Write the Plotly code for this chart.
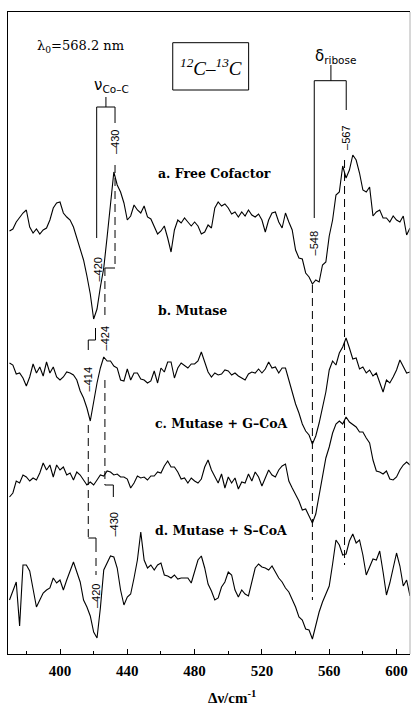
import plotly.graph_objects as go

# Raman shift grid (cm^-1) sampled every 2 cm^-1
wavenumber = list(range(370, 610, 2))

# difference spectra (12C - 13C), arbitrary units
free_cofactor = [
    -6, -4, 3, 8, 12, 15, -2, -8, -4, -9,
    -5, -3, 5, 17, 22, 23, 12, 8, 5, -2,
    -13, -23, -35, -51, -69, -94, -84, -62, -43, -12,
    22, 53, 40, 33, 22, 5, 9, 20, 15, 12,
    19, 8, 6, -1, -9, -6, -1, -13, -27, -5,
    5, 2, 7, 3, -1, 3, -1, -9, -7, 0,
    -3, 17, 23, 19, 21, 17, 11, 13, 8, 13,
    9, 15, 10, 8, 11, 5, -7, 5, 12, 13,
    3, -3, 12, 3, -5, -25, -33, -34, -48, -52,
    -59, -55, -57, -40, -37, -11, 5, 30, 33, 59,
    47, 55, 70, 65, 52, 35, 33, 38, 9, 13,
    15, 7, 7, 3, 9, 5, 3, 9, -10, -3,
]
mutase = [
    9, 7, -2, -1, -6, -14, -5, 8, -1, 5,
    -4, 10, -1, 5, -5, -8, -5, 0, -1, -3,
    -8, -19, -26, -36, -49, -28, -11, 4, 15, 11,
    11, 6, 4, -8, -9, 3, -8, -1, -1, -7,
    -8, -11, -9, 1, -11, 4, 0, 10, 10, -6,
    4, 9, 6, 4, 8, 8, 11, 20, 10, 0,
    -5, -1, -3, -2, 2, 1, -3, -1, -4, -6,
    -8, -2, 0, -1, 3, -1, 3, 10, 4, 5,
    -1, 4, 4, -8, -20, -32, -41, -52, -59, -63,
    -72, -64, -51, -37, -20, 2, 11, 7, 19, 25,
    34, 24, 13, 14, 3, 5, -1, 2, -4, -1,
    -11, -20, -8, -11, -5, 2, 12, 6, -1, 0,
]
mutase_gcoa = [
    -21, -17, -5, -7, 1, -1, -5, -2, -4, 3,
    13, 6, 11, -1, 11, 6, 9, 1, 3, -4,
    4, 1, -4, -9, -6, -9, -4, 1, 0, 5,
    4, 1, 2, -1, -1, -3, -12, -7, 0, -2,
    -1, -4, 0, 0, 4, 3, 10, 15, 9, 9,
    4, -3, -2, -7, -2, -5, -7, -3, 9, 16,
    6, -1, -7, 2, -12, -1, -7, -2, -13, -6,
    -7, 2, -5, 4, -1, -10, -1, 6, 1, -1,
    6, 10, 12, -5, -12, -18, -25, -34, -33, -40,
    -47, -38, -19, 1, 18, 29, 43, 52, 55, 52,
    59, 54, 51, 49, 44, 44, 38, 33, 16, 5,
    4, 2, 5, -3, -4, -1, 6, 11, 14, 11,
]
mutase_scoa = [
    -20, -10, -2, -46, 15, 15, 9, -9, -27, -20,
    -13, -10, -8, 2, -3, 0, -10, 0, 10, 18,
    8, -2, -20, -27, -36, -52, -58, -28, 10, 17,
    24, 23, 12, -10, -25, -17, -14, 2, 20, 48,
    20, 12, 15, 10, 15, 17, 5, 4, 2, 5,
    1, 2, 2, 2, -3, 8, 20, 24, 12, -4,
    -11, -20, -18, -7, -2, 8, 5, -10, -17, -10,
    -14, -16, -2, 12, 16, 13, 12, 10, 14, 8,
    2, -2, -8, -12, -20, -27, -37, -40, -49, -50,
    -59, -45, -32, -22, -14, -6, 16, 40, 35, 25,
    26, 39, 46, 37, 40, 25, 5, 13, 21, 20,
    29, 8, -15, -3, 13, 27, 14, -6, 0, -16,
]

series = [free_cofactor, mutase, mutase_gcoa, mutase_scoa]
series_names = ["a. Free Cofactor", "b. Mutase", "c. Mutase + G\u2013CoA", "d. Mutase + S\u2013CoA"]
offsets = [429, 282, 178, 74]

tick_vals = [400, 440, 480, 520, 560, 600]
tick_text = ["400", "440", "480", "520", "560", "600"]

fig = go.Figure()
for vals, name, off in zip(series, series_names, offsets):
    fig.add_trace(go.Scatter(
        x=wavenumber, y=[v + off for v in vals], mode="lines",
        line=dict(color="black", width=1.1), name=name, showlegend=False,
        hoverinfo="skip"))

solid = dict(color="black", width=1)
dashed = dict(color="black", width=1, dash="8px,5px")

segments = [
    # nu(Co-C) bracket and guide lines
    (421.8, 547, 432.7, 547, solid),
    (427.3, 547, 427.3, 557, solid),
    (421.8, 547, 421.8, 416, solid),
    (432.7, 547, 432.7, 531, solid),
    (432.7, 489, 432.7, 386, dashed),
    (432.7, 386, 426.7, 386, solid),
    (426.7, 386, 426.7, 334, dashed),
    (426.7, 274, 426.7, 169, dashed),
    (426.7, 169, 431.7, 169, solid),
    (431.7, 169, 431.7, 157, solid),
    (421.1, 326, 421.1, 314, solid),
    (421.1, 314, 416.8, 314, solid),
    (416.8, 314, 416.8, 304, solid),
    (416.8, 229, 416.8, 116, dashed),
    (416.8, 116, 421.4, 116, solid),
    (421.4, 116, 421.4, 102, solid),
    (421.4, 96, 421.4, 79, dashed),
    # delta(ribose) bracket and guide lines
    (551.1, 573.3, 570.1, 573.3, solid),
    (561.0, 573.3, 561.0, 589, solid),
    (551.1, 573.3, 551.1, 436, solid),
    (570.1, 573.3, 570.1, 544, solid),
    (550.0, 369, 550.0, 54, dashed),
    (569.1, 494, 569.1, 89, dashed),
]
for x0, y0, x1, y1, ln in segments:
    fig.add_shape(type="line", xref="x", yref="y", x0=x0, y0=y0, x1=x1, y1=y1, line=ln)

# isotope box
fig.add_shape(type="rect", xref="x", yref="y", x0=467.0, y0=564, x1=512.1, y1=611.3,
              line=dict(color="black", width=1))
# faint right border
fig.add_shape(type="line", xref="paper", yref="paper", x0=1, x1=1, y0=0, y1=1,
              line=dict(color="#b0b0b0", width=1))

peak_labels = [
    ("\u2013420", 422.3, 384), ("\u2013430", 432.7, 512), ("\u2013424", 427.0, 316),
    ("\u2013414", 416.9, 275), ("\u2013430", 431.8, 129), ("\u2013420", 421.4, 58),
    ("\u2013548", 551.2, 411), ("\u2013567", 569.9, 516),
]
for txt, x, y in peak_labels:
    fig.add_annotation(x=x, y=y, xref="x", yref="y", text=txt, textangle=-90,
                       showarrow=False, xanchor="center", yanchor="middle",
                       font=dict(family="Liberation Sans", size=11, color="black"))

label_pos = [(457.0, 481), (457.0, 344), (455.3, 231), (455.3, 124)]
for name, (x, y) in zip(series_names, label_pos):
    fig.add_annotation(x=x, y=y, xref="x", yref="y", text="<b>" + name + "</b>",
                       showarrow=False, xanchor="left", yanchor="middle",
                       font=dict(family="DejaVu Serif", size=12.5, color="black"))

fig.add_annotation(x=430.9, y=569, xref="x", yref="y", text="\u03bd<sub>Co\u2013C</sub>",
                   showarrow=False, xanchor="center", yanchor="middle",
                   font=dict(family="DejaVu Sans", size=15, color="black"))
fig.add_annotation(x=564.0, y=598, xref="x", yref="y", text="\u03b4<sub>ribose</sub>",
                   showarrow=False, xanchor="center", yanchor="middle",
                   font=dict(family="DejaVu Sans", size=15, color="black"))
fig.add_annotation(x=385.1, y=608, xref="x", yref="y", text="\u03bb<sub>0</sub>=568.2 nm",
                   showarrow=False, xanchor="left", yanchor="middle",
                   font=dict(family="DejaVu Serif", size=13, color="black"))
fig.add_annotation(x=489.5, y=587, xref="x", yref="y",
                   text="<i><sup>12</sup>C\u2013<sup>13</sup>C</i>",
                   showarrow=False, xanchor="center", yanchor="middle",
                   font=dict(family="Liberation Serif", size=19, color="black"))
fig.add_annotation(x=0.557, y=-0.067, xref="paper", yref="paper",
                   text="<b>\u0394\u03bd/cm<sup>-1</sup></b>",
                   showarrow=False, xanchor="center", yanchor="middle",
                   font=dict(family="Liberation Serif", size=15, color="black"))

fig.update_layout(
    width=414, height=706,
    margin=dict(l=8, r=4, t=12, b=52),
    paper_bgcolor="white", plot_bgcolor="white",
    showlegend=False,
    xaxis=dict(range=[369.1, 608.0], tickvals=tick_vals, ticktext=tick_text,
               ticks="inside", ticklen=5, tickwidth=1, tickcolor="black",
               minor=dict(dtick=20, tick0=0, ticks="inside", ticklen=3, tickcolor="black"),
               showline=True, linecolor="black", linewidth=1, mirror=True,
               showgrid=False, zeroline=False, ticklabelstandoff=3,
               tickfont=dict(family="Liberation Serif", size=15, color="black", weight="bold")),
    yaxis=dict(range=[0, 642], showticklabels=False, ticks="", showgrid=False,
               zeroline=False, showline=True, linecolor="black", linewidth=1),
)

fig.write_html("out.html")
